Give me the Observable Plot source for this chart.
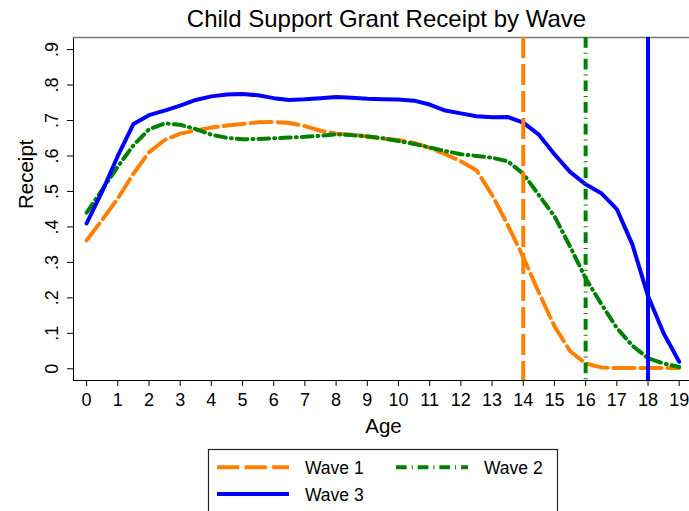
<!DOCTYPE html>
<html>
<head>
<meta charset="utf-8">
<script src="https://cdn.jsdelivr.net/npm/d3@7"></script>
<script src="https://cdn.jsdelivr.net/npm/@observablehq/plot@0.6"></script>
<style>
  body { margin: 0; background: #fff; }
  #wrap { position: relative; width: 689px; height: 511px; overflow: hidden; background: #fff;
          font-family: "Liberation Sans", Arial, sans-serif; color: #000; }
  #title { position: absolute; left: 86.5px; width: 600px; top: 7px; text-align: center;
           font-size: 24px; line-height: 24px; white-space: nowrap; }
  #chart { position: absolute; left: 0; top: 36px; }
  #legend { position: absolute; left: 0; top: 440px; }
</style>
</head>
<body>
<div id="wrap">
  <div id="title">Child Support Grant Receipt by Wave</div>
  <div id="chart"></div>
  <svg id="legend" width="689" height="71"></svg>
</div>
<script>
// ---- data ----
const ages = [0, 0.5, 1, 1.5, 2, 2.5, 3, 3.5, 4, 4.5, 5, 5.5, 6, 6.5, 7, 7.5, 8, 8.5, 9, 9.5,
              10, 10.5, 11, 11.5, 12, 12.5, 13, 13.5, 14, 14.5, 15, 15.5, 16, 16.5, 17, 17.5, 18, 18.5, 19];
const wave1 = [0.362, 0.42, 0.48, 0.55, 0.61, 0.645, 0.663, 0.672, 0.68, 0.686,
               0.69, 0.695, 0.696, 0.693, 0.684, 0.671, 0.663, 0.66, 0.655, 0.649,
               0.645, 0.637, 0.623, 0.605, 0.585, 0.56, 0.49, 0.406, 0.315, 0.215,
               0.12, 0.05, 0.015, 0.004, 0.002, 0.002, 0.002, 0.002, 0.002];
const wave2 = [0.44, 0.505, 0.57, 0.63, 0.675, 0.692, 0.688, 0.676, 0.66, 0.651,
               0.647, 0.648, 0.65, 0.652, 0.654, 0.657, 0.661, 0.659, 0.655, 0.65,
               0.642, 0.634, 0.624, 0.614, 0.605, 0.6, 0.595, 0.585, 0.55, 0.49,
               0.43, 0.345, 0.255, 0.183, 0.115, 0.065, 0.03, 0.015, 0.005];
const wave3 = [0.41, 0.5, 0.6, 0.69, 0.715, 0.728, 0.742, 0.758, 0.768, 0.773,
               0.775, 0.771, 0.763, 0.758, 0.76, 0.763, 0.766, 0.764, 0.761, 0.76,
               0.759, 0.756, 0.745, 0.728, 0.72, 0.712, 0.709, 0.71, 0.694, 0.66,
               0.605, 0.555, 0.52, 0.495, 0.45, 0.35, 0.205, 0.1, 0.02];
const waveNames = ["Wave 1", "Wave 2", "Wave 3"];
const cutoffAges = [14, 16, 18];
const ageTicks = [0, 1, 2, 3, 4, 5, 6, 7, 8, 9, 10, 11, 12, 13, 14, 15, 16, 17, 18, 19];
const receiptTicks = [0, 0.1, 0.2, 0.3, 0.4, 0.5, 0.6, 0.7, 0.8, 0.9];

// ---- styles ----
const colors = ["#ff8000", "#008000", "#0000ff"];
const dashes = ["21,6", "10.7,5,1,5", null];
const lw = 4;

const series = [wave1, wave2, wave3];
const rows = [];
series.forEach((vals, k) => vals.forEach((v, i) => rows.push({wave: waveNames[k], age: ages[i], value: v})));
const cutoffs = cutoffAges.map((a, k) => ({wave: waveNames[k], age: a}));

const fmtY = d => d === 0 ? "0" : d3.format(".1f")(d).replace(/^0/, "");

const marks = [Plot.frame({anchor: "top", stroke: "#777", strokeWidth: 1.5})];
waveNames.forEach((w, k) => {
  marks.push(Plot.line(rows.filter(d => d.wave === w), {
    x: "age", y: "value", stroke: colors[k], strokeWidth: lw,
    strokeDasharray: dashes[k] || undefined, strokeLinejoin: "round"
  }));
});
waveNames.forEach((w, k) => {
  marks.push(Plot.ruleX(cutoffs.filter(d => d.wave === w), {
    x: "age", stroke: colors[k], strokeWidth: lw, strokeDasharray: dashes[k] || undefined
  }));
});
marks.push(Plot.text(["Receipt"], {frameAnchor: "left", rotate: -90, dx: -41, lineAnchor: "bottom",
  fontSize: 20.5, fontFamily: "'Liberation Sans', Arial, sans-serif"}));
marks.push(Plot.text(["Age"], {frameAnchor: "bottom", dy: 52, dx: 2, lineAnchor: "bottom",
  fontSize: 20.5, fontFamily: "'Liberation Sans', Arial, sans-serif"}));

const chart = Plot.plot({
  width: 689, height: 405,
  marginTop: 1, marginLeft: 73, marginRight: 0, marginBottom: 61,
  style: {fontFamily: "'Liberation Sans Narrow', 'Liberation Sans', Arial, sans-serif", fontSize: "18px",
          color: "#000", background: "transparent", overflow: "visible"},
  x: {domain: [-0.42, 19.33], ticks: ageTicks, tickSize: 6, tickPadding: 7,
      tickFormat: d => String(d), label: null, line: true},
  y: {domain: [-0.033, 0.934], ticks: receiptTicks, tickSize: 6, tickPadding: 10,
      tickRotate: -90, tickFormat: fmtY, label: null, line: true},
  marks
});
document.getElementById("chart").appendChild(chart);

// ---- legend ----
const lg = d3.select("#legend");
lg.append("rect").attr("x", 208.5).attr("y", 9.5).attr("width", 349).attr("height", 90)
  .attr("fill", "none").attr("stroke", "#222").attr("stroke-width", 1.2);
const items = [
  {k: 0, x: 217, y: 27.3},
  {k: 1, x: 396, y: 27.3},
  {k: 2, x: 217, y: 54}
];
items.forEach(it => {
  lg.append("line").attr("x1", it.x).attr("x2", it.x + 72).attr("y1", it.y).attr("y2", it.y)
    .attr("stroke", colors[it.k]).attr("stroke-width", lw)
    .attr("stroke-dasharray", it.k === 0 ? "22.3,5.3" : dashes[it.k]);
  lg.append("text").attr("x", it.x + 88).attr("y", it.y + 6.8)
    .attr("font-size", 17.5).attr("font-family", "'Liberation Sans', Arial, sans-serif")
    .text(waveNames[it.k]);
});
</script>
</body>
</html>
